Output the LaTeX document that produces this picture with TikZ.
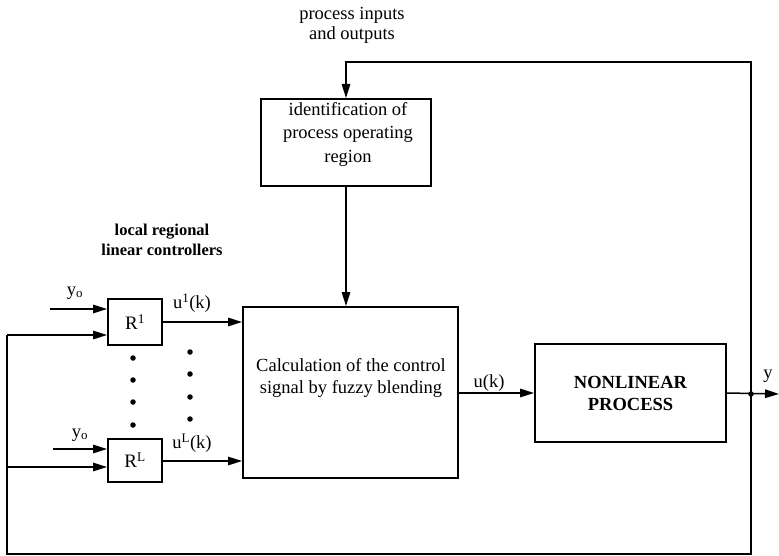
\documentclass[tikz,border=0pt]{standalone}
\usepackage{fontspec}
\setmainfont{Liberation Serif}
\usetikzlibrary{arrows.meta}
\tikzset{
  blk/.style={draw, line width=2pt, inner sep=0pt, align=center},
  txt/.style={inner sep=0pt, align=center, font=\fontsize{18.5}{22}\selectfont},
  lbl/.style={inner sep=0pt, align=center, font=\fontsize{18.5}{20}\selectfont},
  boldlbl/.style={inner sep=0pt, align=center, font=\fontsize{16.5}{20}\selectfont\bfseries},
  wire/.style={line width=1.5pt},
  arr/.style={line width=1.5pt, -{Triangle[length=14pt,width=8.5pt]}},
  dotmark/.style={circle, fill, inner sep=0pt, minimum size=5.5pt}
}
\begin{document}
\begin{tikzpicture}[x=1pt,y=-1pt]
\useasboundingbox (0,0) rectangle (779,556);
% boxes
\node[blk, minimum width=170pt, minimum height=87pt] (ident) at (346,142.5) {};
\node[txt] (identT) at (348,134) {identification of\\[1.5pt]process operating\\[1.5pt]region};
\node[blk, minimum width=215pt, minimum height=171pt] (calc) at (350.5,392.5) {};
\node[txt] (calcT) at (351,378) {Calculation of the control\\signal by fuzzy blending};
\node[blk, minimum width=191pt, minimum height=98pt, font=\fontsize{18.5}{22}\selectfont\bfseries] (nl) at (630.5,393) {NONLINEAR\\PROCESS};
\node[blk, minimum width=54pt, minimum height=46pt, font=\fontsize{19}{22}\selectfont] (r1) at (135,322) {R\textsuperscript{1}};
\node[blk, minimum width=54pt, minimum height=43pt, font=\fontsize{19}{22}\selectfont] (rl) at (135,460.5) {R\textsuperscript{L}};
% texts
\node[lbl] (pio) at (352,25) {process inputs\\and outputs};
\node[boldlbl] (lrc) at (162,240) {local regional\\linear controllers};
\node[lbl] (y0a) at (75,293) {y\textsubscript{o}};
\node[lbl] (y0b) at (80,435) {y\textsubscript{o}};
\node[lbl] (u1) at (192,303) {u\textsuperscript{1}(k)};
\node[lbl] (uL) at (192,443) {u\textsuperscript{L}(k)};
\node[lbl] (uk) at (489,383) {u(k)};
\node[lbl] (ylab) at (768,376) {y};
% coordinates
\coordinate (j) at (751,394);
\coordinate (out) at (779,394);
\coordinate (tr) at (751,62);
\coordinate (tl) at (346,62);
\coordinate (br) at (751,554);
\coordinate (bl) at (7,554);
\coordinate (l1) at (7,335);
\coordinate (l2) at (7,467);
\coordinate (ya) at (50,309);
\coordinate (yb) at (53,449);
% connectors
\draw[arr] (ident.south) -- (ident.south |- calc.north);
\draw[arr] (j) -- (tr) -- (tl) -- (ident.north);
\draw[arr] (nl.east) -- (out);
\draw[wire] (j) -- (br) -- (bl) -- (l1);
\node[dotmark] (jd) at (j) {};
\draw[arr] (l1) -- (l1 -| r1.west);
\draw[arr] (l2) -- (l2 -| rl.west);
\draw[arr] (ya) -- (ya -| r1.west);
\draw[arr] (yb) -- (yb -| rl.west);
\draw[arr] (r1.east) -- (r1.east -| calc.west);
\draw[arr] ([yshift=-0.5pt]rl.east) -- ([yshift=-0.5pt]rl.east -| calc.west);
\draw[arr] (nl.west -| calc.east) -- (nl.west);
% dots
\foreach \yy [count=\i] in {358,380,402,425} \node[dotmark] (da\i) at (133,\yy) {};
\foreach \yy [count=\i] in {352,374,397,419} \node[dotmark] (db\i) at (190,\yy) {};
\end{tikzpicture}
\end{document}
